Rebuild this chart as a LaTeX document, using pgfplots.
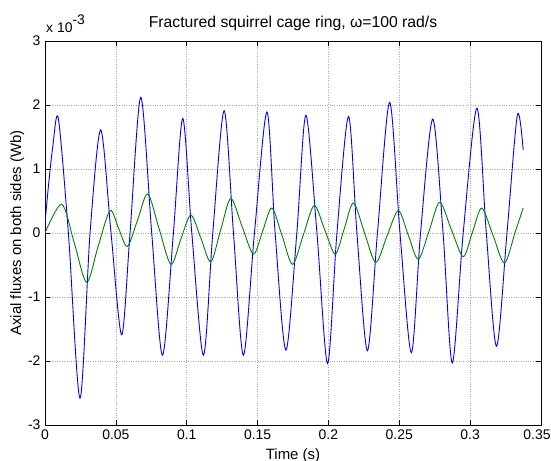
\documentclass[border=0pt]{standalone}
\usepackage{fontspec}
\setmainfont{Liberation Sans}
\usepackage{pgfplots}
\pgfplotsset{compat=1.18}
\begin{document}
\begin{tikzpicture}
\begin{axis}[
  name=ax,
  scale only axis, width=496bp, height=384bp,
  xmin=0, xmax=0.35, ymin=-3, ymax=3,
  xtick={0,0.05,0.1,0.15,0.2,0.25,0.3,0.35},
  xticklabels={0,0.05,0.1,0.15,0.2,0.25,0.3,\hspace*{-8bp}0.35},
  ytick={-3,-2,-1,0,1,2,3},
  yticklabels={-3,-2,-1,0,1,2,3},
  tick align=inside, tick pos=both, major tick length=5bp,
  grid=major, grid style={dotted, gray!70, line width=0.5pt},
  tick style={black, line width=0.5pt},
  axis line style={black, line width=0.6pt},
  /pgf/number format/assume math mode=true,
  ticklabel style={font=\fontsize{14}{16}\selectfont},
  xticklabel style={yshift=-1bp},
  yticklabel style={xshift=-1bp},
  xlabel={Time (s)}, ylabel={Axial fluxes on both sides (Wb)},
  label style={font=\fontsize{15}{17}\selectfont},
  xlabel style={yshift=-2bp},
  ylabel style={yshift=-3bp},
  title={Fractured squirrel cage ring, ω=100 rad/s},
  title style={font=\fontsize{15.8}{18}\selectfont, yshift=1bp},
  every axis plot/.append style={line width=0.9pt, smooth},
]
\addplot[color={rgb,1:red,0;green,0;blue,1}] coordinates {
(0,0.15)(0.0025,0.75)(0.0055,1.35)(0.0094,1.79)(0.0165,0)(0.0247,-2.58)(0.0318,0)(0.0393,1.61)(0.0466,0)(0.0541,-1.59)(0.060,0)(0.0676,2.12)(0.0753,0)(0.0829,-1.91)(0.0906,0)(0.0972,1.79)(0.1036,0)(0.1118,-1.91)(0.1184,0)(0.1264,1.91)(0.133,0)(0.140,-1.91)(0.1478,0)(0.1566,1.89)(0.1624,0)(0.170,-1.83)(0.1777,0)(0.1841,1.84)(0.1919,0)(0.1994,-2.04)(0.206,0)(0.2142,1.82)(0.2201,0)(0.2275,-1.84)(0.2346,0)(0.2432,2.04)(0.2505,0)(0.2585,-1.87)(0.265,0)(0.2736,1.78)(0.2809,0)(0.2874,-2.03)(0.2951,0)(0.3048,1.95)(0.3114,0)(0.3186,-1.77)(0.326,0)(0.3333,1.84)(0.3374,1.30)
};
\addplot[color={rgb,1:red,0;green,0.5;blue,0}] coordinates {
(0,0)(0.0118,0.45)(0.0206,-0.15)(0.0294,-0.77)(0.0376,-0.2)(0.0459,0.35)(0.0520,0.07)(0.0581,-0.21)(0.0653,0.2)(0.0725,0.61)(0.0806,0.06)(0.0888,-0.49)(0.0958,-0.1)(0.1029,0.28)(0.110,-0.08)(0.117,-0.45)(0.124,0.05)(0.1311,0.54)(0.1391,0.1)(0.1471,-0.33)(0.1536,0.03)(0.1601,0.39)(0.1674,-0.05)(0.1747,-0.49)(0.1823,-0.03)(0.19,0.43)(0.1974,0.05)(0.2048,-0.33)(0.2112,0.07)(0.2177,0.47)(0.2255,0.0)(0.2334,-0.46)(0.2413,-0.05)(0.2493,0.35)(0.2563,-0.03)(0.2634,-0.41)(0.271,0.03)(0.2785,0.48)(0.2868,0.05)(0.2951,-0.37)(0.3016,0.01)(0.3082,0.39)(0.3162,-0.04)(0.3242,-0.47)(0.3316,0.0)(0.3374,0.39)
};
\end{axis}
\node[anchor=base west, inner sep=0pt, font=\fontsize{14}{16}\selectfont] at ([xshift=1bp,yshift=8bp]ax.north west) {x 10\raisebox{8bp}{-3}};
\pgfresetboundingbox
\path[use as bounding box] ([xshift=-45bp,yshift=-36bp]ax.south west) rectangle ([xshift=10bp,yshift=41bp]ax.north east);
\end{tikzpicture}
\end{document}
